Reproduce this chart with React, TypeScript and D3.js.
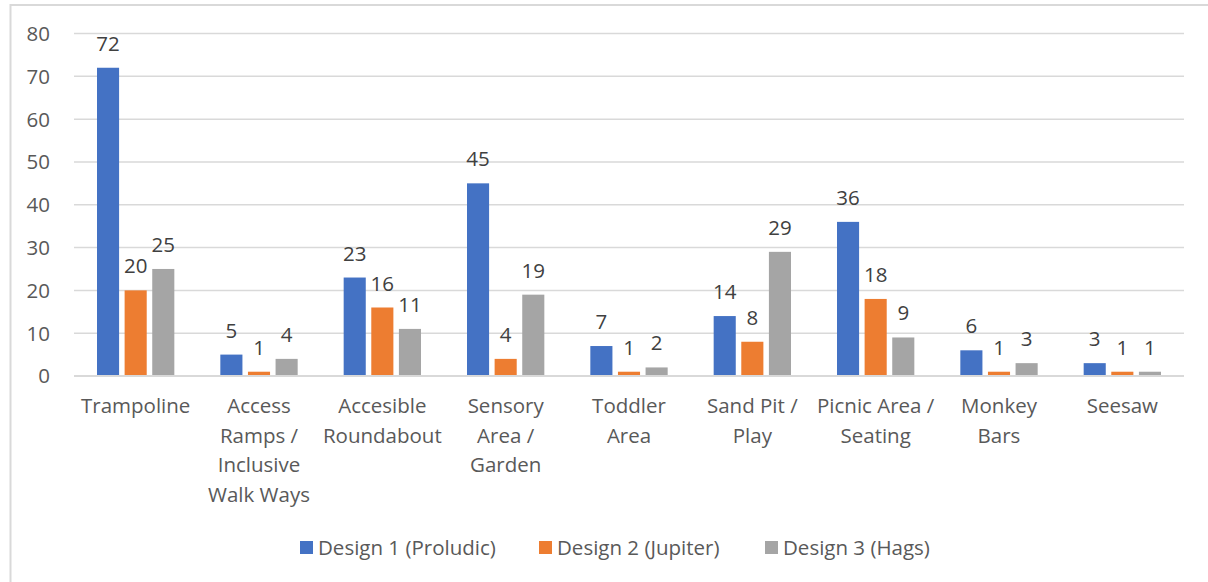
import { useEffect, useRef } from "react";
import * as d3 from "d3";

const categories = [
  "Trampoline",
  "Access\nRamps /\nInclusive\nWalk Ways",
  "Accesible\nRoundabout",
  "Sensory\nArea /\nGarden",
  "Toddler\nArea",
  "Sand Pit /\nPlay",
  "Picnic Area /\nSeating",
  "Monkey\nBars",
  "Seesaw",
];
const seriesNames = ["Design 1 (Proludic)", "Design 2 (Jupiter)", "Design 3 (Hags)"];
const design1 = [72, 5, 23, 45, 7, 14, 36, 6, 3];
const design2 = [20, 1, 16, 4, 1, 8, 18, 1, 1];
const design3 = [25, 4, 11, 19, 2, 29, 9, 3, 1];
const yTicks = [0, 10, 20, 30, 40, 50, 60, 70, 80];
const colors = ["#4472c4", "#ed7d31", "#a5a5a5"];

const W = 1208;
const H = 582;
const FONT = "'Open Sans', sans-serif";
const FS = 20.5;

const App = () => {
  const svgRef = useRef<SVGSVGElement | null>(null);

  useEffect(() => {
    const svg = d3.select(svgRef.current);
    svg.selectAll("*").remove();

    const series = [design1, design2, design3];
    const margin = { left: 74, right: 24, top: 33.5, bottom: 206 };

    // chart border
    svg
      .append("rect")
      .attr("x", 10.5)
      .attr("y", 5)
      .attr("width", W + 20)
      .attr("height", H + 20)
      .attr("fill", "#fff")
      .attr("stroke", "#d9d9d9")
      .attr("stroke-width", 2);

    const x0 = d3
      .scaleBand<number>()
      .domain(d3.range(categories.length))
      .range([margin.left, W - margin.right]);

    const x1 = d3
      .scaleBand<number>()
      .domain([0, 1, 2])
      .range([23, x0.bandwidth() - 23])
      .paddingInner(0.2);

    const y = d3
      .scaleLinear()
      .domain([0, 80])
      .range([H - margin.bottom, margin.top]);

    // gridlines
    svg
      .append("g")
      .selectAll("line")
      .data(yTicks)
      .join("line")
      .attr("x1", margin.left)
      .attr("x2", W - margin.right)
      .attr("y1", (d) => y(d))
      .attr("y2", (d) => y(d))
      .attr("stroke", "#d9d9d9")
      .attr("stroke-width", (d) => (d === 0 ? 2 : 1.5));

    // y tick labels
    svg
      .append("g")
      .selectAll("text")
      .data(yTicks)
      .join("text")
      .attr("x", 50)
      .attr("y", (d) => y(d))
      .attr("dy", "0.36em")
      .attr("text-anchor", "end")
      .attr("font-family", FONT)
      .attr("font-size", FS)
      .attr("fill", "#595959")
      .text((d) => d);

    // bars
    const groups = svg
      .append("g")
      .selectAll("g")
      .data(categories.map((_, i) => i))
      .join("g")
      .attr("transform", (i) => `translate(${x0(i)},0)`);

    groups
      .selectAll("rect")
      .data((i) => series.map((s, k) => ({ k, v: s[i] })))
      .join("rect")
      .attr("x", (d) => x1(d.k)!)
      .attr("width", x1.bandwidth())
      .attr("y", (d) => y(d.v))
      .attr("height", (d) => y(0) - y(d.v) - 1)
      .attr("fill", (d) => colors[d.k]);

    groups
      .selectAll("text")
      .data((i) => series.map((s, k) => ({ k, v: s[i] })))
      .join("text")
      .attr("x", (d) => x1(d.k)! + x1.bandwidth() / 2)
      .attr("y", (d) => y(d.v) - 17)
      .attr("text-anchor", "middle")
      .attr("font-family", FONT)
      .attr("font-size", FS)
      .attr("fill", "#404040")
      .text((d) => d.v);

    // category labels
    svg
      .append("g")
      .selectAll("text")
      .data(categories.map((c, i) => ({ c, i })))
      .join("text")
      .attr("text-anchor", "middle")
      .attr("font-family", FONT)
      .attr("font-size", FS)
      .attr("fill", "#595959")
      .each(function (d) {
        const t = d3.select(this);
        d.c.split("\n").forEach((line, j) => {
          t.append("tspan")
            .attr("x", x0(d.i)! + x0.bandwidth() / 2)
            .attr("y", 413 + j * 29.7)
            .text(line);
        });
      });

    // legend
    const legendX = [300, 539, 765];
    const legend = svg
      .append("g")
      .selectAll("g")
      .data(seriesNames.map((n, k) => ({ n, k })))
      .join("g")
      .attr("transform", (d) => `translate(${legendX[d.k]},0)`);
    legend
      .append("rect")
      .attr("x", 0)
      .attr("y", 541)
      .attr("width", 13)
      .attr("height", 13)
      .attr("fill", (d) => colors[d.k]);
    legend
      .append("text")
      .attr("x", 18)
      .attr("y", 555)
      .attr("font-family", FONT)
      .attr("font-size", FS)
      .attr("fill", "#595959")
      .text((d) => d.n);
  }, []);

  return (
    <svg
      ref={svgRef}
      width={W}
      height={H}
      viewBox={`0 0 ${W} ${H}`}
      style={{ position: "absolute", left: 0, top: 0, background: "#fff" }}
    />
  );
};

export default App;
